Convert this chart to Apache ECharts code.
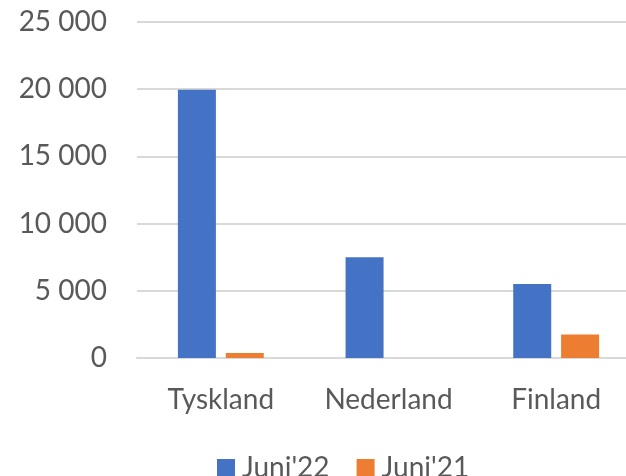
<!DOCTYPE html>
<html>
<head>
<meta charset="utf-8">
<script src="https://cdn.jsdelivr.net/npm/echarts@6/dist/echarts.min.js"></script>
<style>html,body{margin:0;padding:0;background:#fff}#c{width:626px;height:476px}</style>
</head>
<body>
<div id="c"></div>
<script>
const categories = ["Tyskland", "Nederland", "Finland"];
const juni22 = [19950, 7500, 5500];
const juni21 = [380, 0, 1750];
const seriesNames = ["Juni'22", "Juni'21"];

const chart = echarts.init(document.getElementById('c'));
const fmt = v => String(v).replace(/\B(?=(\d{3})+(?!\d))/g, ' ');
chart.setOption({
  animation: false,
  textStyle: { fontFamily: 'Lato' },
  grid: { left: 137, right: -14, top: 22, bottom: 118, outerBoundsMode: 'none', containLabel: false },
  legend: {
    data: seriesNames,
    left: 212, top: 449,
    itemWidth: 18, itemHeight: 18, itemGap: 27,
    icon: 'rect',
    textStyle: { fontSize: 28, color: '#595959', fontFamily: 'Lato', padding: [0, 0, 0, 2] }
  },
  xAxis: {
    type: 'category',
    data: categories,
    axisLine: { lineStyle: { color: '#d9d9d9', width: 2 } },
    axisTick: { show: false },
    axisLabel: { fontSize: 28, color: '#595959', margin: 28, fontFamily: 'Lato', interval: 0 }
  },
  yAxis: {
    type: 'value',
    min: 0, max: 25000, interval: 5000,
    axisLine: { show: false },
    axisTick: { show: false },
    splitLine: { lineStyle: { color: '#d9d9d9', width: 2 } },
    axisLabel: { fontSize: 28, color: '#595959', margin: 30, formatter: fmt, fontFamily: 'Lato' }
  },
  series: [
    { name: seriesNames[0], type: 'bar', data: juni22, barWidth: 38, barGap: '26%',
      itemStyle: { color: '#4472c4' } },
    { name: seriesNames[1], type: 'bar', data: juni21, barWidth: 38,
      itemStyle: { color: '#ed7d31' } }
  ]
});
</script>
</body>
</html>
